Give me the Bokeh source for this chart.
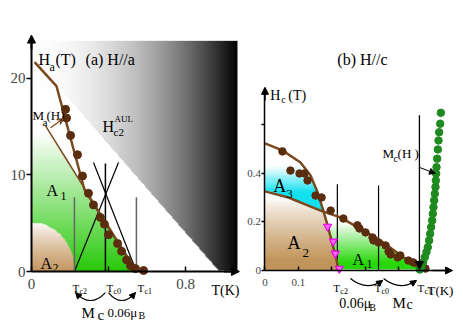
import numpy as np
from bokeh.plotting import figure
from bokeh.layouts import row
from bokeh.models import Arrow, NormalHead, VeeHead, FixedTicker, Range1d
from bokeh.core.properties import value
from bokeh.embed import file_html
from bokeh.resources import INLINE

FONT = "'Liberation Serif', 'Times New Roman', Tinos, serif"

# ---------------- panel (a)  H // a ----------------
a_dot_T = [0.177, 0.182, 0.203, 0.239, 0.265, 0.296, 0.322, 0.358, 0.379, 0.400,
           0.447, 0.468, 0.494, 0.514, 0.540, 0.582]
a_dot_H = [16.8, 15.9, 14.1, 12.1, 9.9, 8.1, 6.9, 5.6, 4.9, 3.8,
           2.9, 2.1, 1.2, 0.6, 0.3, 0.1]
a_Ha_T = [0.016, 0.13, 0.275, 0.545]          # H_a(T) thick line
a_Ha_H = [21.7, 19.2, 8.5, 0.0]
a_Ma_T = [0.073, 0.545]                        # M_a(H) thin line
a_Ma_H = [15.1, 0.0]
a_aul_T = [0.14, 0.971]                        # H_c2^AUL boundary
a_aul_H = [19.0, 0.0]
a_Tc = [0.223, 0.384, 0.545]                   # Tc2, Tc0, Tc1
a_Tc_top = [7.7, 11.2, 7.7]
a_cross_T0 = [0.223, 0.322]
a_cross_H0 = [0.0, 11.3]
a_cross_T1 = [0.452, 0.545]
a_cross_H1 = [11.3, 0.0]
a_A2_rT, a_A2_rH = 0.223, 5.1                  # A2 quarter ellipse
a_A1_top = 14.5
a_grad_T, a_grad_H = 1.07, 23.9
a_xticks = [0, 0.4, 0.8]
a_xlabels = ["0", "", "0.8"]
a_yticks = [0, 10, 20]

# ---------------- panel (b)  H // c ----------------
b_up_T = [0.0, 0.052, 0.106, 0.136, 0.157, 0.172, 0.187, 0.201, 0.213, 0.219]
b_up_H = [0.524, 0.495, 0.445, 0.392, 0.322, 0.256, 0.186, 0.111, 0.049, 0.0]
b_low_T = [0.0, 0.070, 0.166, 0.225, 0.345, 0.455, 0.461]
b_low_H = [0.326, 0.301, 0.247, 0.219, 0.124, 0.012, 0.0]
b_updot_T = [0.052, 0.076, 0.103, 0.118, 0.127, 0.151, 0.169]
b_updot_H = [0.491, 0.412, 0.400, 0.400, 0.371, 0.309, 0.301]
b_lowdot_T = [0.196, 0.234, 0.276, 0.282, 0.300, 0.321, 0.324, 0.339, 0.360, 0.369,
              0.375, 0.396, 0.404, 0.428, 0.443, 0.464, 0.479]
b_lowdot_H = [0.247, 0.214, 0.186, 0.173, 0.157, 0.136, 0.124, 0.115, 0.103, 0.078,
              0.066, 0.054, 0.062, 0.041, 0.033, 0.012, 0.008]
b_tri_T = [0.187, 0.204, 0.210, 0.222]
b_tri_H = [0.181, 0.120, 0.070, 0.008]
b_Mc_T = [0.525, 0.523, 0.520, 0.518, 0.516, 0.514, 0.512, 0.511, 0.510, 0.509,
          0.507, 0.505, 0.503, 0.501, 0.499, 0.496, 0.493, 0.490, 0.486, 0.482,
          0.477, 0.472, 0.467, 0.462]
b_Mc_H = [0.650, 0.605, 0.570, 0.536, 0.499, 0.461, 0.426, 0.399, 0.371, 0.344,
          0.316, 0.289, 0.261, 0.234, 0.206, 0.179, 0.151, 0.124, 0.096, 0.076,
          0.055, 0.034, 0.014, 0.004]
b_Tc = [0.216, 0.339, 0.461]
b_Tc_top = [0.355, 0.35, 0.64]
b_A3_top = 0.43
b_xticks = [0, 0.1, 0.2, 0.3, 0.4]
b_xlabels = ["0", "0.1", "", "", ""]
b_yticks = [0, 0.2, 0.4, 0.6]
b_ylabels = ["0", "0.2", "0.4", ""]

BROWN = "#7a4a1e"
DOT = "#5a2d0f"
H = 335


def make_fig(w, xr, yr):
    p = figure(width=w, height=H, x_range=Range1d(*xr), y_range=Range1d(*yr),
               output_backend="svg", toolbar_location=None, min_border=0, title=None)
    p.grid.visible = False
    p.outline_line_color = None
    return p


def style_axes(p, xt, xl, xb, yt, yl, yb, fs, lw, xstand, ystand, ytick_out):
    xa, ya = p.xaxis[0], p.yaxis[0]
    for a in (xa, ya):
        a.fixed_location = 0
        a.minor_tick_line_color = None
        a.axis_line_width = lw
        a.major_tick_line_width = 1.5
        a.major_label_text_font = FONT
        a.major_label_text_font_size = fs
    xa.bounds = xb
    ya.bounds = yb
    xa.ticker = FixedTicker(ticks=xt)
    ya.ticker = FixedTicker(ticks=yt)
    xa.major_label_overrides = dict(zip(xt, xl))
    ya.major_label_overrides = dict(zip(yt, yl))
    xa.major_tick_in, xa.major_tick_out = 5, 0
    ya.major_tick_in, ya.major_tick_out = 0, ytick_out
    xa.major_label_standoff = xstand
    ya.major_label_standoff = ystand


def rgba(mask, r, g, b, alpha):
    ny, nx = mask.shape
    img = np.zeros((ny, nx), dtype=np.uint32)
    v = img.view(np.uint8).reshape(ny, nx, 4)
    v[..., 0] = r
    v[..., 1] = g
    v[..., 2] = b
    v[..., 3] = np.where(mask, np.clip(alpha * 255, 0, 255), 0).astype(np.uint8)
    return img


def grid(x0, x1, y0, y1, nx, ny):
    return np.meshgrid(np.linspace(x0, x1, nx), np.linspace(y0, y1, ny))


def put(p, x, y, parts):
    for s, size, dx, dy in parts:
        p.text(x=[x], y=[y], text=[s], x_offset=dx, y_offset=dy,
               text_font=value(FONT), text_font_size=f"{size}px",
               text_align="left", text_baseline="alphabetic", text_color="black")


def arc(p, P0, P1, C, head_at_end=True, color="black"):
    p.quadratic(x0=[P0[0]], y0=[P0[1]], x1=[P1[0]], y1=[P1[1]], cx=[C[0]], cy=[C[1]],
                line_color=color, line_width=1.2)
    tip = P1 if head_at_end else P0
    s = (tip[0] + 0.25 * (C[0] - tip[0]), tip[1] + 0.25 * (C[1] - tip[1]))
    p.add_layout(Arrow(end=NormalHead(size=6, fill_color=color, line_color=color),
                       x_start=s[0], y_start=s[1], x_end=tip[0], y_end=tip[1],
                       line_color=color, line_width=1.2))


# ======================= panel (a) =======================
p1 = make_fig(240, (-0.161, 1.0857), (-6.63, 28.08))

# grey H_c2^AUL gradient
TT, HH = grid(0, a_grad_T, 0, a_grad_H, 206, 231)
L = (1 - (TT / a_grad_T) ** 2) * 255
m = HH > np.interp(TT, a_aul_T, a_aul_H)
p1.image_rgba(image=[rgba(m, L, L, L, np.ones_like(L))], x=0, y=0, dw=a_grad_T, dh=a_grad_H)

# A1 green gradient
TT, HH = grid(0, a_Ma_T[-1], 0, a_Ma_H[0], 120, 150)
m = HH <= np.interp(TT, a_Ma_T, a_Ma_H)
f = np.clip(1 - HH / a_A1_top, 0, 1)
p1.image_rgba(image=[rgba(m, 40, 200, 10, f)], x=0, y=0, dw=a_Ma_T[-1], dh=a_Ma_H[0])

# A2 tan quarter ellipse
TT, HH = grid(0, a_A2_rT, 0, a_A2_rH, 60, 60)
m = (TT / a_A2_rT) ** 2 + (HH / a_A2_rH) ** 2 <= 1
f = np.clip(1 - HH / a_A2_rH, 0, 1) ** 0.8
p1.image_rgba(image=[rgba(m, 255 - f * (255 - 196), 255 - f * (255 - 150), 255 - f * (255 - 95),
                          np.ones_like(f))], x=0, y=0, dw=a_A2_rT, dh=a_A2_rH)

# construction lines
p1.segment(x0=a_cross_T0, y0=a_cross_H0, x1=a_cross_T1, y1=a_cross_H1, line_color="black", line_width=1.2)
p1.segment(x0=a_Tc, y0=[0, 0, 0], x1=a_Tc, y1=a_Tc_top,
           line_color=["#666666", "black", "#666666"], line_width=1.5)
p1.line(a_Ma_T, a_Ma_H, line_color=BROWN, line_width=1.5)
p1.line(a_Ha_T, a_Ha_H, line_color=BROWN, line_width=2.5)
p1.scatter(a_dot_T, a_dot_H, size=8, color=DOT)

style_axes(p1, a_xticks, a_xlabels, (0, 1.075), a_yticks, ["0", "10", "20"], (0, 24.2),
           "15px", 2, 7, 1, 5)
p1.add_layout(Arrow(end=NormalHead(size=8, fill_color="black"), x_start=1.0, y_start=0,
                    x_end=1.08, y_end=0, line_width=2))
p1.add_layout(Arrow(end=NormalHead(size=8, fill_color="black"), x_start=0, y_start=23,
                    x_end=0, y_end=24.5, line_width=2))
p1.add_layout(Arrow(end=VeeHead(size=6, line_color=BROWN, line_width=1.2), x_start=0.099, y_start=14.9,
                    x_end=0.166, y_end=15.85, line_color=BROWN, line_width=1.2))

arc(p1, (0.229, -2.18), (0.384, -2.18), (0.306, -3.83), head_at_end=False)
arc(p1, (0.400, -2.18), (0.540, -2.18), (0.468, -3.83), head_at_end=True)

put(p1, 0.036, 21.97, [("H", 16, 0, 0), ("a", 12, 11, 8), ("(T)", 16, 17, 0)])
put(p1, 0.281, 21.97, [("(a) H//a", 16, 0, 0)])
put(p1, 0.369, 15.03, [("H", 16, 0, 0), ("AUL", 9, 12, -7), ("c2", 11, 11, 6)])
put(p1, 0.005, 16.17, [("M", 13, 0, 0), ("a", 11, 10, 7), ("(H)", 13, 14, 0)])
put(p1, 0.078, 8.39, [("A", 16, 0, 0), ("1", 12, 14, 5)])
put(p1, 0.047, 0.83, [("A", 16, 0, 0), ("2", 12, 12, 4)])
for t, sub in zip([0.213, 0.390, 0.551], ["c2", "c0", "c1"]):
    put(p1, t, -1.76, [("T", 11, 0, 0), (sub, 8, 7, 3)])
put(p1, 0.935, -1.97, [("T(K)", 14, 0, 0)])
put(p1, 0.260, -4.35, [("M", 15, 0, 0), ("c", 15, 16, 2)])
put(p1, 0.395, -4.25, [("0.06μ", 13, 0, 0), ("B", 10, 31, 3)])

# ======================= panel (b) =======================
p2 = make_fig(222, (-0.0731, 0.5896), (-0.268, 1.113))

# A3 cyan
TT, HH = grid(0, 0.22, 0.2, b_A3_top, 80, 60)
m = (HH > np.interp(TT, b_low_T, b_low_H)) & (HH < np.interp(TT, b_up_T, b_up_H))
f = np.clip((b_A3_top - HH) / 0.11, 0, 1)
p2.image_rgba(image=[rgba(m, 20, 225, 240, f)], x=0, y=0.2, dw=0.22, dh=b_A3_top - 0.2)

# A2 tan
TT, HH = grid(0, 0.22, 0, 0.33, 80, 90)
m = (HH < np.interp(TT, b_low_T, b_low_H)) & (HH < np.interp(TT, b_up_T, b_up_H))
f = np.clip((0.30 - HH) / 0.26, 0, 1) ** 0.8
p2.image_rgba(image=[rgba(m, 192, 148, 90, f)], x=0, y=0, dw=0.22, dh=0.33)

# A1 green
TT, HH = grid(0.17, 0.461, 0, 0.25, 100, 70)
m = (HH < np.interp(TT, b_low_T, b_low_H)) & (HH > np.interp(TT, b_up_T, b_up_H))
f = np.clip((0.2 - HH) / 0.17, 0, 1)
p2.image_rgba(image=[rgba(m, 40, 215, 10, f)], x=0.17, y=0, dw=0.291, dh=0.25)

p2.segment(x0=b_Tc[:2], y0=[0, 0], x1=b_Tc[:2], y1=b_Tc_top[:2], line_color="black", line_width=1.2)
p2.line(b_up_T, b_up_H, line_color=BROWN, line_width=2.5)
p2.line(b_low_T, b_low_H, line_color=BROWN, line_width=2.5)
p2.scatter(b_updot_T, b_updot_H, size=7.5, color=DOT)
p2.scatter(b_lowdot_T, b_lowdot_H, size=7.5, color=DOT)
p2.scatter(b_tri_T, b_tri_H, marker="inverted_triangle", size=8,
           fill_color="#ff66ff", line_color="#ee00ee", line_width=1.2)
p2.scatter(b_Mc_T, b_Mc_H, size=7.5, color="#1f8a1f")

p2.add_layout(Arrow(end=NormalHead(size=8, fill_color="black"), x_start=b_Tc[2], y_start=b_Tc_top[2],
                    x_end=b_Tc[2], y_end=0.004, line_width=1.3))
p2.add_layout(Arrow(end=NormalHead(size=6, fill_color="black"), x_start=0.461, y_start=0.425,
                    x_end=0.509, y_end=0.40, line_width=1))

style_axes(p2, b_xticks, b_xlabels, (0, 0.555), b_yticks, b_ylabels, (0, 0.75),
           "11px", 1.5, 9, 1, 3)
p2.xaxis[0].major_tick_in = 4
p2.add_layout(Arrow(end=NormalHead(size=7, fill_color="black"), x_start=0.5, y_start=0,
                    x_end=0.56, y_end=0, line_width=1.5))
p2.add_layout(Arrow(end=NormalHead(size=7, fill_color="black"), x_start=0, y_start=0.7,
                    x_end=0, y_end=0.755, line_width=1.5))

arc(p2, (0.255, -0.033), (0.351, -0.041), (0.303, -0.087), head_at_end=True)
arc(p2, (0.354, -0.033), (0.452, -0.041), (0.403, -0.087), head_at_end=True)

put(p2, 0.216, 0.870, [("(b) H//c", 16, 0, 0)])
put(p2, 0.016, 0.722, [("H", 14, 0, 0), ("c", 10, 11, 4), ("(T)", 14, 18, 0)])
put(p2, 0.351, 0.482, [("M", 13, 0, 0), ("c", 10, 11, 5), ("(H )", 13, 15, 0)])
put(p2, 0.025, 0.350, [("A", 18, 0, 0), ("3", 13, 13, 8)])
put(p2, 0.067, 0.115, [("A", 18, 0, 0), ("2", 13, 15, 10)])
put(p2, 0.261, 0.045, [("A", 16, 0, 0), ("1", 12, 14, 4)])
for t, sub in zip([0.204, 0.327, 0.455], ["c2", "c0", "c1"]):
    put(p2, t, -0.074, [("T", 11, 0, 0), (sub, 8, 7, 3)])
put(p2, 0.485, -0.082, [("T(K)", 13, 0, 0)])
put(p2, 0.222, -0.136, [("0.06μ", 14, 0, 0), ("B", 10, 30, 4)])
put(p2, 0.381, -0.136, [("M", 15, 0, 0), ("c", 14, 14, 1)])

layout = row(p1, p2)
open("out.html", "w").write(file_html(layout, INLINE))
